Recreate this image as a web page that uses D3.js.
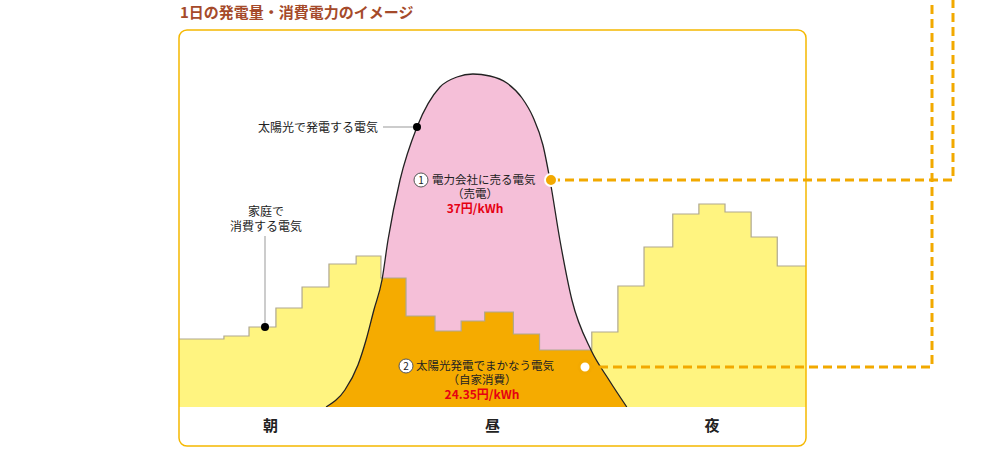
<!DOCTYPE html>
<html><head><meta charset="utf-8">
<script src="https://cdn.jsdelivr.net/npm/d3@7"></script>
<style>body{margin:0;background:#fff}svg{font-family:"Noto Sans CJK JP",sans-serif}</style>
</head><body>
<svg id="c" width="984" height="469"></svg>
<script>
// household consumption steps: start hour, value (kWh)
var stepStart = [0,1.72,2.68,3.71,4.71,5.74,6.78,7.73,8.69,9.8,10.8,11.7,12.8,13.8,15.8,16.8,17.8,18.9,19.9,20.9,21.9,22.9];
var stepValue = [0.68,0.71,0.80,0.99,1.20,1.43,1.51,1.29,0.91,0.76,0.86,0.95,0.73,0.57,0.75,1.21,1.60,1.93,2.03,1.95,1.70,1.41];
// solar generation curve
var solarHour = [5.63,6.35,6.85,7.16,7.46,7.77,8.0,8.46,9.11,9.99,10.64,11.25,11.9,12.55,13.13,13.55,13.93,14.2,14.58,15.04,15.77,16.46,17.14];
var solarValue = [0,0.17,0.42,0.67,0.97,1.27,1.67,2.27,2.80,3.20,3.30,3.33,3.31,3.24,3.09,2.90,2.62,2.27,1.67,1.07,0.57,0.27,0];
var periods = ['朝','昼','夜'];
var periodHour = [3.5,12,20.4];

var svg = d3.select('#c');
var x = d3.scaleLinear().domain([0,24]).range([179,806]);
var y = d3.scaleLinear().domain([0,4]).range([407,7]);

var steps = stepStart.map(function(d,i){ return {h:d, v:stepValue[i]} });
steps.push({h:24, v:stepValue[stepValue.length-1]});
var solar = solarHour.map(function(d,i){ return {h:d, v:solarValue[i]} });

var stepArea = d3.area().curve(d3.curveStepAfter)
  .x(function(d){ return x(d.h) }).y0(y(0)).y1(function(d){ return y(d.v) });
var stepLine = d3.line().curve(d3.curveStepAfter)
  .x(function(d){ return x(d.h) }).y(function(d){ return y(d.v) });
var solarArea = d3.area().curve(d3.curveMonotoneX)
  .x(function(d){ return x(d.h) }).y0(y(0)).y1(function(d){ return y(d.v) });
var solarLine = d3.line().curve(d3.curveMonotoneX)
  .x(function(d){ return x(d.h) }).y(function(d){ return y(d.v) });

svg.append('clipPath').attr('id','sol').append('path').attr('d', solarArea(solar));

// title
svg.append('text').attr('x',180).attr('y',18).attr('fill','#a54a2a')
  .attr('font-size',15).attr('font-weight','bold').text('1日の発電量・消費電力のイメージ');

// frame background
svg.append('rect').attr('x',179).attr('y',30).attr('width',627).attr('height',416)
  .attr('rx',8).attr('fill','#fff');

svg.append('path').attr('d', stepArea(steps)).attr('fill','#fff480');
svg.append('path').attr('d', solarArea(solar)).attr('fill','#f5bfd8');
svg.append('path').attr('d', stepArea(steps)).attr('fill','#f5ab00').attr('clip-path','url(#sol)');
svg.append('path').attr('d', stepLine(steps)).attr('fill','none').attr('stroke','#b0a890').attr('stroke-width',1.2);
svg.append('path').attr('d', solarLine(solar)).attr('fill','none').attr('stroke','#222').attr('stroke-width',1.3);

// bottom label band
svg.append('rect').attr('x',179).attr('y',407).attr('width',627).attr('height',39).attr('fill','#fff');
svg.append('rect').attr('x',179).attr('y',30).attr('width',627).attr('height',416)
  .attr('rx',8).attr('fill','none').attr('stroke','#f5b800').attr('stroke-width',1.5);
svg.selectAll('.period').data(periods).enter().append('text')
  .attr('x',function(d,i){ return x(periodHour[i]) }).attr('y',431)
  .attr('text-anchor','middle').attr('font-size',15).attr('font-weight','bold').attr('fill','#222')
  .text(function(d){ return d });

// dashed connectors (on top)
var orange = '#f2a900';
svg.append('path').attr('d','M551,180H953V0').attr('fill','none')
  .attr('stroke',orange).attr('stroke-width',3).attr('stroke-dasharray','9,5');
svg.append('path').attr('d','M585,367H932V0').attr('fill','none')
  .attr('stroke',orange).attr('stroke-width',3).attr('stroke-dasharray','9,5');

// annotations
function txt(t,px,py,anchor,col,size,weight){
  svg.append('text').attr('x',px).attr('y',py).attr('text-anchor',anchor||'start')
    .attr('fill',col||'#222').attr('font-size',size||12).attr('font-weight',weight||'normal').text(t);
}
svg.append('line').attr('x1',383).attr('x2',417).attr('y1',127).attr('y2',127).attr('stroke','#999');
svg.append('circle').attr('cx',417).attr('cy',127).attr('r',4).attr('fill','#000');
txt('太陽光で発電する電気',378,132,'end');

svg.append('line').attr('x1',265).attr('x2',265).attr('y1',236).attr('y2',327).attr('stroke','#999');
svg.append('circle').attr('cx',265).attr('cy',327).attr('r',4).attr('fill','#000');
txt('家庭で',266,216,'middle');
txt('消費する電気',266,231,'middle');

svg.append('circle').attr('cx',551).attr('cy',180).attr('r',6).attr('fill',orange).attr('stroke','#fff').attr('stroke-width',2);
svg.append('circle').attr('cx',421).attr('cy',180).attr('r',7).attr('fill','#fff').attr('stroke','#555');
txt('1',421,184,'middle','#222',10);
txt('電力会社に売る電気',432,184,'start','#222',11.5);
txt('（売電）',475,198,'middle','#222',11.5);
txt('37円/kWh',475,213,'middle','#e60012',12,'bold');

svg.append('circle').attr('cx',585).attr('cy',367).attr('r',6).attr('fill','#fff').attr('stroke',orange).attr('stroke-width',3);
svg.append('circle').attr('cx',406).attr('cy',366).attr('r',7).attr('fill','#fff').attr('stroke','#555');
txt('2',406,370,'middle','#222',10);
txt('太陽光発電でまかなう電気',416,370,'start','#222',11.5);
txt('（自家消費）',482,384,'middle','#222',11.5);
txt('24.35円/kWh',482,399,'middle','#e60012',12,'bold');
</script>
</body></html>
